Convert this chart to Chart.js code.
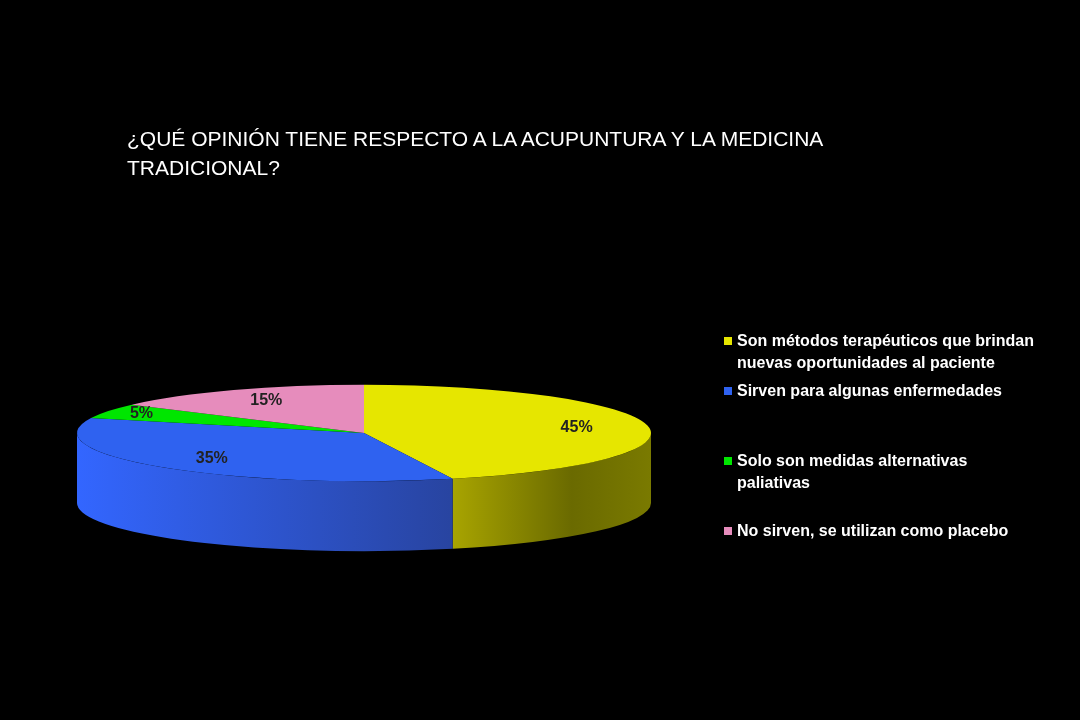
<!DOCTYPE html>
<html>
<head>
<meta charset="utf-8">
<script src="https://cdn.jsdelivr.net/npm/chart.js@4"></script>
<style>
  body { margin: 0; background: #000; width: 1080px; height: 720px; overflow: hidden; font-family: "Liberation Sans", Arial, sans-serif; }
  #titulo { position: absolute; left: 127px; top: 124px; width: 830px; color: #fff; font-size: 21px; line-height: 29px; }
  #leyenda { position: absolute; left: 724px; top: 330px; width: 312px; color: #fff; font-size: 16px; font-weight: bold; line-height: 22px; }
  .item { position: relative; padding-left: 13px; }
  .item span { position: absolute; left: 0; top: 7px; width: 8px; height: 8px; }
  canvas { position: absolute; left: 0; top: 0; }
</style>
</head>
<body>
<canvas id="grafico" width="1080" height="720"></canvas>
<div id="titulo">¿QUÉ OPINIÓN TIENE RESPECTO A LA ACUPUNTURA Y LA MEDICINA TRADICIONAL?</div>
<div id="leyenda"></div>
<script>
const categorias = ['Son métodos terapéuticos que brindan nuevas oportunidades al paciente',
                    'Sirven para algunas enfermedades',
                    'Solo son medidas alternativas paliativas',
                    'No sirven, se utilizan como placebo'];
const valores = [45, 35, 5, 15];
const etiquetas = ['45%', '35%', '5%', '15%'];
const colores = ['#e6e600', '#2f62f0', '#00e600', '#e68cbc'];
const coloresLado = [['#a8a400', '#6a6a00'], ['#3366ff', '#2844a0'], ['#00a000', '#006000'], ['#a06080', '#704058']];

const APLASTE = 0.168;
const PROFUNDIDAD = 70;
const espacios = [6, 48, 26, 0];

// leyenda en HTML
const leyenda = document.getElementById('leyenda');
categorias.forEach((c, i) => {
    const d = document.createElement('div');
    d.className = 'item';
    d.style.marginBottom = espacios[i] + 'px';
    d.innerHTML = `<span style="background:${colores[i]}"></span>${c}`;
    leyenda.appendChild(d);
});

const pastel3d = {
    id: 'pastel3d',
    beforeDatasetsDraw(chart) {
        const ctx = chart.ctx;
        const arcos = chart.getDatasetMeta(0).data;
        const cx = arcos[0].x, cy = arcos[0].y, r = arcos[0].outerRadius;
        const ry = r * APLASTE;
        // lado frontal (ángulos 0..PI)
        arcos.forEach((a, i) => {
            const s = Math.max(a.startAngle, 0), e = Math.min(a.endAngle, Math.PI);
            if (e <= s) return;
            const x1 = cx + r * Math.cos(s), x2 = cx + r * Math.cos(e);
            const g = ctx.createLinearGradient(Math.min(x1, x2), 0, Math.max(x1, x2), 0);
            if (i === 0) {
                g.addColorStop(0, coloresLado[i][0]); g.addColorStop(0.6, coloresLado[i][1]); g.addColorStop(1, '#7a7a00');
            } else {
                g.addColorStop(0, coloresLado[i][0]); g.addColorStop(1, coloresLado[i][1]);
            }
            ctx.save();
            ctx.beginPath();
            ctx.ellipse(cx, cy, r, ry, 0, s, e);
            ctx.ellipse(cx, cy + PROFUNDIDAD, r, ry, 0, e, s, true);
            ctx.closePath();
            ctx.fillStyle = g;
            ctx.fill();
            ctx.restore();
        });
        ctx.save();
        ctx.translate(cx, cy);
        ctx.scale(1, APLASTE);
        ctx.translate(-cx, -cy);
    },
    afterDatasetsDraw(chart) {
        const ctx = chart.ctx;
        ctx.restore();
        const arcos = chart.getDatasetMeta(0).data;
        ctx.save();
        ctx.font = 'bold 16px "Liberation Sans", Arial, sans-serif';
        ctx.fillStyle = '#222';
        ctx.textAlign = 'center';
        ctx.textBaseline = 'middle';
        arcos.forEach((a, i) => {
            const m = (a.startAngle + a.endAngle) / 2;
            const f = valores[i] < 10 ? 0.87 : 0.75;
            const x = a.x + f * a.outerRadius * Math.cos(m);
            const y = a.y + f * a.outerRadius * APLASTE * Math.sin(m);
            ctx.fillText(etiquetas[i], x, y);
        });
        ctx.restore();
    }
};

new Chart(document.getElementById('grafico').getContext('2d'), {
    type: 'pie',
    data: {
        labels: categorias,
        datasets: [{ data: valores, backgroundColor: colores, borderWidth: 0 }]
    },
    options: {
        responsive: false,
        animation: false,
        layout: { padding: { left: 77, right: 429, top: 146, bottom: 0 } },
        plugins: { legend: { display: false }, tooltip: { enabled: false } }
    },
    plugins: [pastel3d]
});
</script>
</body>
</html>
